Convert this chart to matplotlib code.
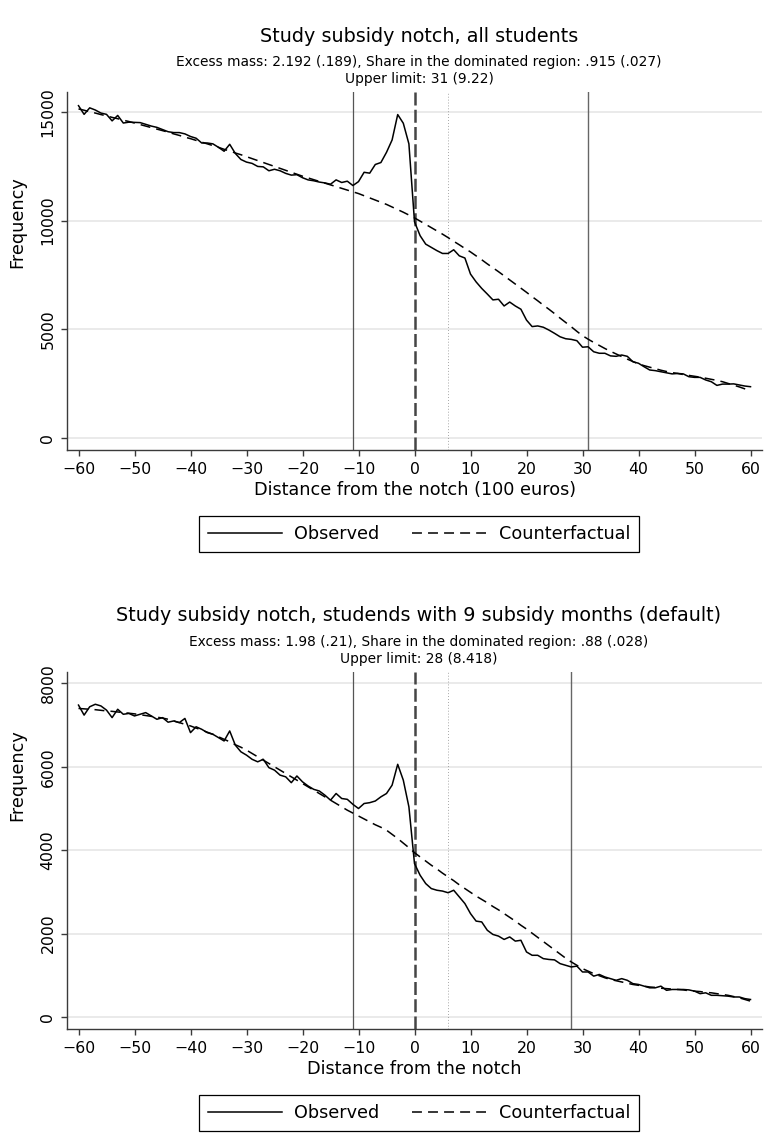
import numpy as np
import matplotlib
matplotlib.use("Agg")
import matplotlib.pyplot as plt

# bins: distance from the notch
x = list(range(-60, 61))

# panel 1: all students
obs_all = [15300, 14900, 15200, 15100, 14960, 14900, 14600, 14850, 14500, 14540,
           14530, 14520, 14440, 14360, 14300, 14200, 14100, 14060, 14060, 14000,
           13880, 13800, 13580, 13580, 13540, 13380, 13200, 13520, 13100, 12820,
           12700, 12640, 12500, 12480, 12300, 12370, 12300, 12180, 12100, 12120,
           11980, 11880, 11840, 11780, 11740, 11680, 11880, 11760, 11820, 11620,
           11800, 12230, 12190, 12590, 12680, 13150, 13720, 14890, 14490, 13540,
           9950, 9310, 8920, 8770, 8620, 8490, 8490, 8660, 8380, 8280,
           7540, 7180, 6880, 6620, 6350, 6380, 6070, 6250, 6070, 5920,
           5420, 5120, 5150, 5090, 4960, 4810, 4650, 4560, 4530, 4470,
           4170, 4190, 3960, 3890, 3890, 3770, 3750, 3810, 3750, 3500,
           3430, 3270, 3120, 3090, 3040, 2990, 2940, 2960, 2940, 2810,
           2780, 2780, 2660, 2580, 2410, 2470, 2470, 2480, 2430, 2380,
           2350]
cf_all = [15150, 15090, 15020, 14960, 14890, 14830, 14760, 14700, 14630, 14570,
          14500, 14430, 14360, 14290, 14220, 14150, 14080, 14000, 13930, 13850,
          13780, 13700, 13620, 13540, 13460, 13380, 13290, 13210, 13120, 13040,
          12950, 12860, 12770, 12680, 12590, 12500, 12410, 12320, 12230, 12140,
          12050, 11970, 11890, 11810, 11730, 11650, 11570, 11490, 11410, 11330,
          11250, 11150, 11050, 10950, 10850, 10750, 10630, 10510, 10390, 10260,
          10130, 9980, 9830, 9680, 9530, 9380, 9220, 9050, 8890, 8720,
          8560, 8380, 8200, 8010, 7830, 7650, 7460, 7270, 7080, 6890,
          6700, 6500, 6310, 6110, 5920, 5720, 5510, 5310, 5110, 4900,
          4700, 4540, 4390, 4250, 4110, 3980, 3860, 3740, 3620, 3510,
          3400, 3320, 3250, 3180, 3110, 3050, 3000, 2960, 2910, 2870,
          2830, 2790, 2740, 2690, 2640, 2580, 2500, 2420, 2340, 2250,
          2150]

# panel 2: students with 9 subsidy months
obs_nine = [7480, 7240, 7440, 7500, 7460, 7360, 7180, 7380, 7260, 7280,
            7220, 7260, 7300, 7220, 7140, 7180, 7070, 7100, 7060, 7160,
            6820, 6960, 6900, 6820, 6780, 6700, 6620, 6860, 6520, 6360,
            6280, 6180, 6120, 6180, 5980, 5920, 5800, 5760, 5620, 5780,
            5640, 5540, 5460, 5420, 5320, 5200, 5360, 5240, 5220, 5100,
            5000, 5120, 5140, 5180, 5280, 5360, 5560, 6060, 5680, 5040,
            3680, 3400, 3200, 3080, 3040, 3020, 2980, 3040, 2880, 2720,
            2480, 2300, 2280, 2080, 1980, 1940, 1860, 1920, 1820, 1840,
            1560, 1480, 1480, 1400, 1380, 1370, 1280, 1240, 1200, 1220,
            1080, 1080, 980, 1020, 960, 920, 880, 920, 880, 800,
            780, 740, 700, 700, 740, 640, 660, 660, 660, 650,
            620, 560, 580, 520, 520, 510, 500, 480, 480, 440,
            420]
cf_nine = [7400, 7390, 7380, 7370, 7355, 7340, 7330, 7315, 7300, 7285,
           7270, 7250, 7230, 7210, 7190, 7170, 7140, 7100, 7060, 7020,
           6980, 6930, 6880, 6830, 6780, 6720, 6660, 6600, 6530, 6470,
           6400, 6320, 6240, 6160, 6080, 6000, 5920, 5840, 5760, 5680,
           5600, 5520, 5440, 5360, 5280, 5200, 5120, 5040, 4960, 4890,
           4820, 4750, 4680, 4610, 4550, 4480, 4380, 4280, 4170, 4060,
           3940, 3840, 3740, 3640, 3550, 3450, 3360, 3270, 3170, 3080,
           2990, 2900, 2820, 2740, 2650, 2570, 2480, 2390, 2300, 2200,
           2110, 2010, 1910, 1810, 1710, 1610, 1510, 1410, 1320, 1240,
           1160, 1100, 1040, 990, 940, 900, 870, 840, 810, 780,
           760, 740, 720, 710, 690, 680, 670, 660, 650, 630,
           620, 610, 590, 580, 560, 540, 520, 490, 460, 420,
           380]

titles = ["Study subsidy notch, all students",
          "Study subsidy notch, studends with 9 subsidy months (default)"]
subtitles = [["Excess mass: 2.192 (.189), Share in the dominated region: .915 (.027)",
              "Upper limit: 31 (9.22)"],
             ["Excess mass: 1.98 (.21), Share in the dominated region: .88 (.028)",
              "Upper limit: 28 (8.418)"]]
xlabels = ["Distance from the notch (100 euros)", "Distance from the notch"]
yticks = [[0, 5000, 10000, 15000], [0, 2000, 4000, 6000, 8000]]
ylims = [(-567, 15930), (-295, 8281)]
lower_limit = -11
upper_limits = [31, 28]
notch = 0
dominated_end = 6

W, H = 776, 1148
AX_COLOR = "#3a3a3a"


def fy(px):
    # pixel row -> figure fraction
    return 1 - px / H


def draw_panel(fig, rect, obs, cf, i, top_px, bottom_px, ylab_px):
    ax = fig.add_axes(rect)
    ax.set_xlim(-62, 62)
    ax.set_ylim(*ylims[i])
    ax.set_xticks(range(-60, 61, 10))
    ax.set_yticks(yticks[i])
    ax.yaxis.grid(True, color="#e6e6e6", lw=1.2, zorder=0)
    ax.set_axisbelow(True)
    for s in ["top", "right"]:
        ax.spines[s].set_visible(False)
    for s in ["left", "bottom"]:
        ax.spines[s].set_color(AX_COLOR)
        ax.spines[s].set_linewidth(1.0)
    ax.tick_params(length=4.5, width=1.0, color=AX_COLOR, labelsize=11.3, pad=4)
    for lab in ax.get_yticklabels():
        lab.set_rotation(90)
        lab.set_va("center")

    # reference lines
    ax.axvline(lower_limit, color="#555555", lw=0.9, zorder=1)
    ax.axvline(upper_limits[i], color="#666666", lw=1.0, zorder=1)
    ax.axvline(dominated_end, color="#8a8a8a", lw=0.6, ls=(0, (1, 2.5)), zorder=1)
    ax.axvline(notch, color="#454545", lw=1.8, ls=(0, (5.2, 1.7)), zorder=1)

    l_cf, = ax.plot(x, cf, color="black", lw=1.1, dashes=(6.5, 4), zorder=3,
                    label="Counterfactual")
    l_obs, = ax.plot(x, obs, color="black", lw=1.1, zorder=4, label="Observed")

    ax.set_xlabel(xlabels[i], fontsize=12.7, labelpad=3)
    ax.set_ylabel("Frequency", fontsize=12.7)
    ax_h = bottom_px - top_px
    ax.yaxis.set_label_coords((26 - 67.3) / 694.4, (bottom_px - ylab_px) / ax_h)

    # titles
    cx = 419 / W
    fig.text(cx, fy(top_px - 56), titles[i], ha="center", va="center", fontsize=13.8)
    fig.text(cx, fy(top_px - 30), subtitles[i][0], ha="center", va="center", fontsize=9.9)
    fig.text(cx, fy(top_px - 12.5), subtitles[i][1], ha="center", va="center", fontsize=9.9)

    leg = fig.legend([l_obs, l_cf], ["Observed", "Counterfactual"], loc="center",
                     bbox_to_anchor=(cx, fy(bottom_px + 84)), ncol=2, fontsize=12.7,
                     handlelength=4.2, handletextpad=0.73, columnspacing=1.84,
                     borderpad=0.5, fancybox=False, framealpha=1)
    leg.get_frame().set_edgecolor("black")
    leg.get_frame().set_linewidth(0.9)
    return ax


fig = plt.figure(figsize=(W / 100, H / 100), dpi=100)

left = 67.3 / W
width = 694.4 / W
draw_panel(fig, [left, fy(450), width, (450 - 92) / H], obs_all, cf_all, 0, 92, 450, 222)
draw_panel(fig, [left, fy(1029.3), width, (1029.3 - 671.7) / H], obs_nine, cf_nine, 1,
           671.7, 1029.3, 775)

fig.savefig("out.png", dpi=100)
